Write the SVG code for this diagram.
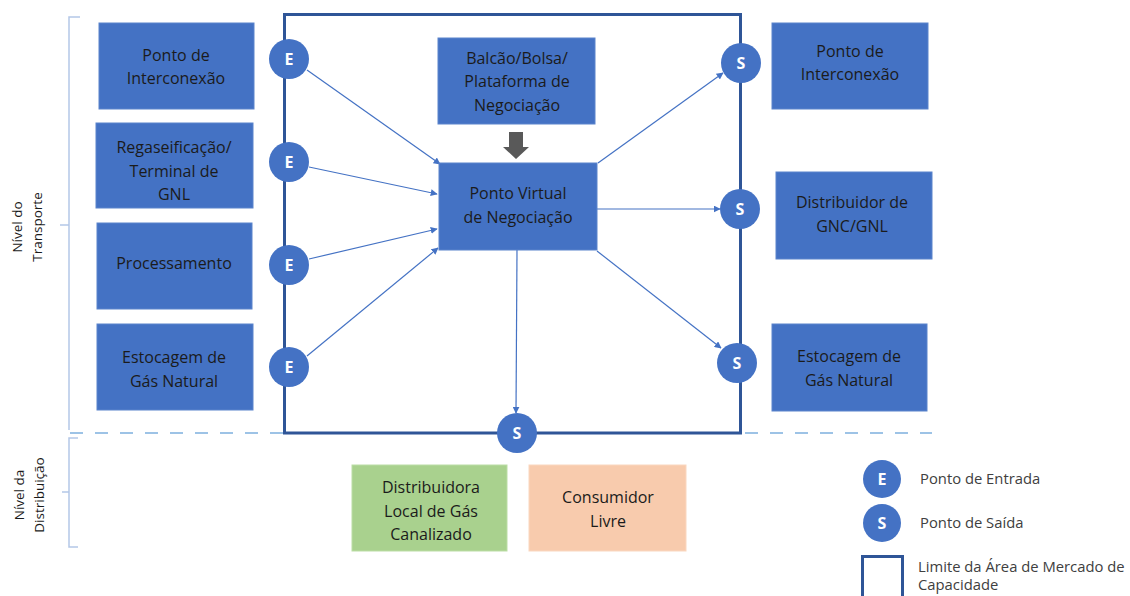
<svg xmlns="http://www.w3.org/2000/svg" width="1130" height="596" viewBox="0 0 1130 596">
<defs>
<style>
.box{fill:#4472C4;stroke:#5B84CC;stroke-width:1}
.t{font-family:"Open Sans","Liberation Sans",sans-serif;font-size:16px;fill:#1b1b1b;text-anchor:middle}
.pt{fill:#4472C4}
.pl{font-family:"Open Sans","Liberation Sans",sans-serif;font-size:16px;font-weight:bold;fill:#ffffff;text-anchor:middle}
.con{stroke:#4472C4;stroke-width:1.2;fill:none;marker-end:url(#ah)}
.lg{font-family:"Open Sans","Liberation Sans",sans-serif;font-size:14.8px;fill:#404040}
.side{font-family:"Open Sans","Liberation Sans",sans-serif;font-size:13.5px;fill:#1b1b1b;text-anchor:middle}
.br{stroke:#B4C7E7;stroke-width:1.5;fill:none}
</style>
<marker id="ah" viewBox="0 0 10 10" refX="9" refY="5" markerWidth="7" markerHeight="7" markerUnits="userSpaceOnUse" orient="auto">
<path d="M0,0 L10,5 L0,10 z" fill="#4472C4"/>
</marker>
</defs>
<rect width="1130" height="596" fill="#ffffff"/>

<g id="brackets">
<path class="br" d="M80,17 L69,17 L69,430 M69,225 L60,225"/>
<path class="br" d="M78,438 L69,438 L69,547 L78,547 M69,492 L62,492"/>
</g>
<g id="level-labels">
<text class="side" transform="translate(22,227) rotate(-90)">Nível do</text>
<text class="side" transform="translate(42,227) rotate(-90)">Transporte</text>
<text class="side" transform="translate(24,495) rotate(-90)">Nível da</text>
<text class="side" transform="translate(44,495) rotate(-90)">Distribuição</text>
</g>

<line x1="70" y1="433" x2="932" y2="433" stroke="#9DC3E6" stroke-width="2" stroke-dasharray="13 12"/>

<rect id="market-area" x="284.5" y="14.5" width="456" height="418.5" fill="none" stroke="#2F5597" stroke-width="3"/>

<g id="connectors">
<line class="con" x1="307" y1="70" x2="440" y2="164"/>
<line class="con" x1="309" y1="167" x2="437" y2="194"/>
<line class="con" x1="309" y1="259" x2="437" y2="229"/>
<line class="con" x1="307" y1="356" x2="438" y2="248"/>
<line class="con" x1="598" y1="163" x2="723" y2="73"/>
<line class="con" x1="597" y1="209" x2="720" y2="209"/>
<line class="con" x1="597" y1="251" x2="721" y2="348"/>
<line class="con" x1="517" y1="250" x2="516" y2="413"/>
</g>

<g id="in-interconexao"><rect class="box" x="99" y="23" width="155" height="86"/><text class="t" x="176" y="61">Ponto de</text><text class="t" x="176" y="84">Interconexão</text></g>
<g id="in-regas"><rect class="box" x="96" y="123" width="157" height="85"/><text class="t" x="174" y="153">Regaseificação/</text><text class="t" x="174" y="177">Terminal de</text><text class="t" x="174" y="200">GNL</text></g>
<g id="in-process"><rect class="box" x="97" y="223" width="155" height="86"/><text class="t" x="174" y="269">Processamento</text></g>
<g id="in-estocagem"><rect class="box" x="97" y="324" width="156" height="86"/><text class="t" x="174" y="363">Estocagem de</text><text class="t" x="174" y="387">Gás Natural</text></g>

<g id="balcao"><rect class="box" x="438" y="38" width="157" height="86"/><text class="t" x="517" y="64">Balcão/Bolsa/</text><text class="t" x="517" y="87">Plataforma de</text><text class="t" x="517" y="111">Negociação</text></g>
<g id="gray-arrow"><polygon points="509,132 523,132 523,147 529,147 516,159 503,147 509,147" fill="#595959"/></g>
<g id="pvn"><rect class="box" x="439" y="163" width="158" height="87"/><text class="t" x="518" y="199">Ponto Virtual</text><text class="t" x="518" y="223">de Negociação</text></g>

<g id="out-interconexao"><rect class="box" x="772" y="23" width="156" height="86"/><text class="t" x="850" y="57">Ponto de</text><text class="t" x="850" y="80">Interconexão</text></g>
<g id="out-gnc"><rect class="box" x="776" y="172" width="156" height="87"/><text class="t" x="852" y="208">Distribuidor de</text><text class="t" x="852" y="232">GNC/GNL</text></g>
<g id="out-estocagem"><rect class="box" x="772" y="324" width="155" height="87"/><text class="t" x="849" y="362">Estocagem de</text><text class="t" x="849" y="386">Gás Natural</text></g>

<g id="distribuidora"><rect x="352" y="465" width="155" height="86" fill="#A9D18E" stroke="#BBDDA5" stroke-width="1"/><text class="t" x="431" y="493">Distribuidora</text><text class="t" x="431" y="517">Local de Gás</text><text class="t" x="431" y="540">Canalizado</text></g>
<g id="consumidor"><rect x="529" y="465" width="157" height="86" fill="#F8CBAD" stroke="#FAD7C0" stroke-width="1"/><text class="t" x="608" y="503">Consumidor</text><text class="t" x="608" y="527">Livre</text></g>

<g id="entry-points">
<g id="e1"><circle class="pt" cx="289" cy="59" r="20"/><text class="pl" x="289" y="65">E</text></g>
<g id="e2"><circle class="pt" cx="289" cy="162" r="20"/><text class="pl" x="289" y="168">E</text></g>
<g id="e3"><circle class="pt" cx="289" cy="265" r="20"/><text class="pl" x="289" y="271">E</text></g>
<g id="e4"><circle class="pt" cx="289" cy="367" r="20"/><text class="pl" x="289" y="373">E</text></g>
</g>
<g id="exit-points">
<g id="s1"><circle class="pt" cx="741" cy="63" r="20"/><text class="pl" x="741" y="69">S</text></g>
<g id="s2"><circle class="pt" cx="740" cy="209" r="20"/><text class="pl" x="740" y="215">S</text></g>
<g id="s3"><circle class="pt" cx="737" cy="363" r="20"/><text class="pl" x="737" y="369">S</text></g>
<g id="s4"><circle class="pt" cx="517" cy="433" r="20"/><text class="pl" x="517" y="439">S</text></g>
</g>

<g id="legend">
<circle class="pt" cx="882" cy="479" r="19"/><text class="pl" x="882" y="485">E</text>
<text class="lg" x="920" y="484">Ponto de Entrada</text>
<circle class="pt" cx="882" cy="523" r="19"/><text class="pl" x="882" y="529">S</text>
<text class="lg" x="920" y="528">Ponto de Saída</text>
<rect x="862.5" y="556.5" width="40" height="45" fill="none" stroke="#2F5597" stroke-width="3"/>
<text class="lg" x="918" y="572">Limite da Área de Mercado de</text>
<text class="lg" x="918" y="590">Capacidade</text>
</g>
</svg>
